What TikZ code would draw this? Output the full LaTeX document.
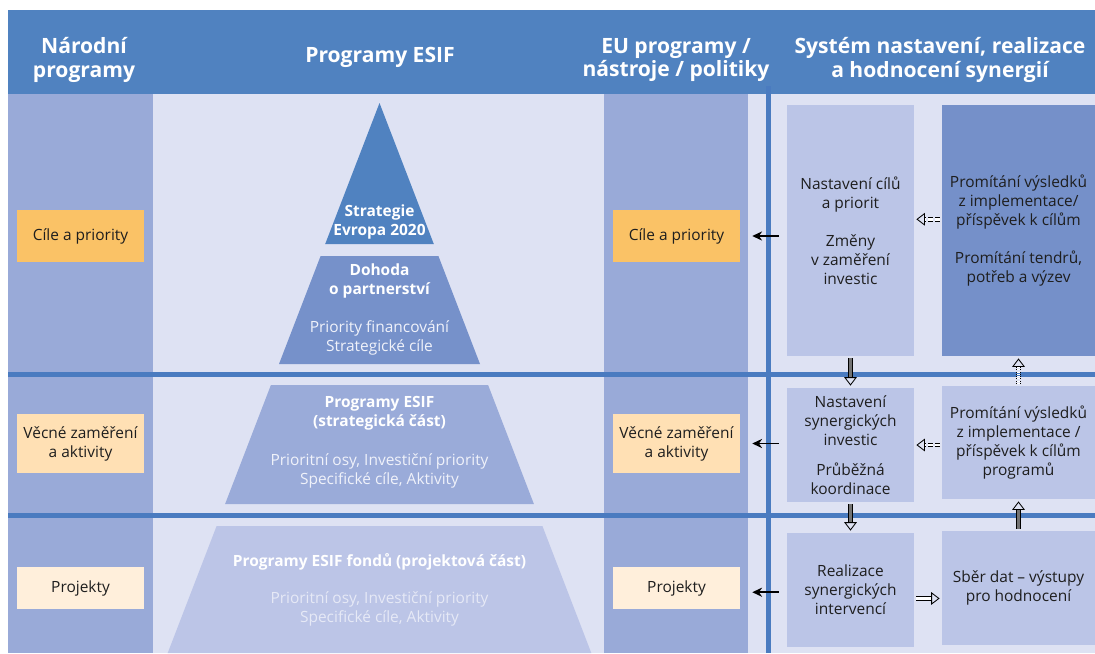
\documentclass[tikz,border=0pt]{standalone}
\usepackage{fontspec}
\setmainfont{Open Sans}
\usepackage{tikz}
\usetikzlibrary{arrows.meta,calc}
\definecolor{hdrblue}{HTML}{5082C0}
\definecolor{lineblue}{HTML}{4A7BC0}
\definecolor{paleback}{HTML}{DEE2F3}
\definecolor{colblue}{HTML}{99AAD8}
\definecolor{boxlight}{HTML}{BBC5E7}
\definecolor{boxdark}{HTML}{7590C9}
\definecolor{pyrtwo}{HTML}{7691CA}
\definecolor{pyrthree}{HTML}{9AABD9}
\definecolor{pyrfour}{HTML}{BCC5E7}
\definecolor{goalA}{HTML}{FAC266}
\definecolor{goalB}{HTML}{FFE0B4}
\definecolor{goalC}{HTML}{FFEFDB}
\definecolor{inktext}{HTML}{1E1E1E}
\definecolor{softtext}{HTML}{F0F2FA}
\definecolor{fainttext}{HTML}{E6E9F6}

\tikzset{
  hdr/.style={text=white, align=center, font=\bfseries\fontsize{15}{17}\selectfont},
  levelbox/.style={minimum width=3.175cm, inner sep=0, align=center, text=inktext, font=\fontsize{11}{13.5}\selectfont},
  synbox/.style={fill=boxlight, minimum width=3.175cm, inner sep=0, align=center, text=inktext, font=\fontsize{11}{13.5}\selectfont},
  pyrtitle/.style={text=white, align=center, font=\bfseries\fontsize{11}{13.5}\selectfont},
  pyrnote/.style={text=#1, align=center, font=\fontsize{11}{13.5}\selectfont},
  flow/.style={draw=black, line width=1.1pt, -{Stealth[length=7pt,width=6.5pt]}, shorten <=5.7pt, shorten >=8.5pt},
  hollow/.style={draw=black, line width=0.6pt, double=black!55, double distance=2pt, -{Triangle[open,length=6pt,width=9pt]}, shorten <=1.5pt, shorten >=1.5pt},
}

\begin{document}
\begin{tikzpicture}[x=0.025cm, y=-0.025cm]
\useasboundingbox (0,0) rectangle (1095,653);
\fill[paleback] (8,94) rectangle (1095,653);
\fill[hdrblue] (8,10) rectangle (1095,94);
\fill[colblue] (8,94) rectangle (153,653);
\fill[colblue] (604,94) rectangle (748,653);
\fill[lineblue] (8,372) rectangle (1095,377);
\fill[lineblue] (8,513) rectangle (1095,518);
\fill[lineblue] (766,86) rectangle (771,653);

\node[hdr] (hnat) at (84,60) {Národní\\programy};
\node[hdr] (hesif) at (380,57) {Programy ESIF};
\node[hdr] (heu) at (676,60) {EU programy /\\nástroje / politiky};
\node[hdr] (hsyn) at (940,60) {Systém nastavení, realizace\\a hodnocení synergií};

\fill[hdrblue] (379.5,103) -- (433.8,244) -- (325.2,244) -- cycle;
\fill[pyrtwo] (320.6,256) -- (438.4,256) -- (480,364) -- (279,364) -- cycle;
\fill[pyrthree] (270.9,385) -- (488.1,385) -- (533.9,504) -- (225.1,504) -- cycle;
\fill[pyrfour] (216.6,526) -- (542.4,526) -- (591.3,653) -- (167.7,653) -- cycle;

\node[pyrtitle] (europa) at (379.5,222) {Strategie\\Evropa 2020};
\node[pyrtitle] (dohoda) at (379.5,281) {Dohoda\\o partnerství};
\node[pyrnote=softtext] (dohodanote) at (379.5,338) {Priority financování\\Strategické cíle};
\node[pyrtitle] (esifstrat) at (379.5,413) {Programy ESIF\\(strategická část)};
\node[pyrnote=softtext] (esifstratnote) at (379.5,471) {Prioritní osy, Investiční priority\\Specifické cíle, Aktivity};
\node[pyrtitle] (esifproj) at (379.5,562) {Programy ESIF fondů (projektová část)};
\node[pyrnote=fainttext] (esifprojnote) at (379.5,609) {Prioritní osy, Investiční priority\\Specifické cíle, Aktivity};

\node[levelbox, fill=goalA, minimum height=1.3cm] (natgoal) at (80.5,236) {Cíle a priority};
\node[levelbox, fill=goalB, minimum height=1.475cm] (natfocus) at (80.5,443.5) {Věcné zaměření\\a aktivity};
\node[levelbox, fill=goalC, minimum height=1.05cm] (natproj) at (80.5,588) {Projekty};
\node[levelbox, fill=goalA, minimum height=1.3cm] (eugoal) at (676.5,236) {Cíle a priority};
\node[levelbox, fill=goalB, minimum height=1.475cm] (eufocus) at (676.5,443.5) {Věcné zaměření\\a aktivity};
\node[levelbox, fill=goalC, minimum height=1.05cm] (euproj) at (676.5,588) {Projekty};

\node[synbox, minimum height=6.275cm] (setgoal) at (850.5,230.5) {Nastavení cílů\\a priorit\\[13.5pt]Změny\\v zaměření\\investic};
\node[synbox, fill=boxdark, minimum width=3.825cm, minimum height=6.275cm] (reflect) at (1018.5,230.5) {Promítání výsledků\\z implementace/\\příspěvek k cílům\\[13.5pt]Promítání tendrů,\\potřeb a výzev};
\node[synbox, minimum height=2.85cm] (setsyn) at (850.5,445) {Nastavení\\synergických\\investic\\[8pt]Průběžná\\koordinace};
\node[synbox, minimum width=3.825cm, minimum height=2.825cm] (progres) at (1018.5,442.5) {Promítání výsledků\\z implementace /\\příspěvek k cílům\\programů};
\node[synbox, minimum height=2.85cm] (realize) at (850.5,590) {Realizace\\synergických\\intervencí};
\node[synbox, minimum width=3.825cm, minimum height=2.85cm] (collect) at (1018.5,588) {Sběr dat – výstupy\\pro hodnocení};

\draw[flow] (setgoal.west |- eugoal.east) -- (eugoal.east);
\draw[flow] (setsyn.west |- eufocus.east) -- (eufocus.east);
\draw[flow] ([yshift=-3pt]realize.west |- euproj.east) -- ([yshift=-3pt]euproj.east);

\draw[hollow, double=white, densely dashed] ([yshift=8pt]reflect.west) -- ([yshift=8pt]setgoal.east);
\draw[hollow, double=white, densely dashed] (progres.west |- setsyn.east) -- (setsyn.east);
\draw[hollow] (setgoal.south) -- (setsyn.north);
\draw[hollow] (setsyn.south) -- (realize.north);
\draw[hollow, double=white, densely dotted] (progres.north) -- (reflect.south);
\draw[hollow] (collect.north) -- (progres.south);
\draw[hollow, double=white] ([yshift=-6pt]realize.east) -- ([yshift=-6pt]realize.east -| collect.west);
\end{tikzpicture}
\end{document}
